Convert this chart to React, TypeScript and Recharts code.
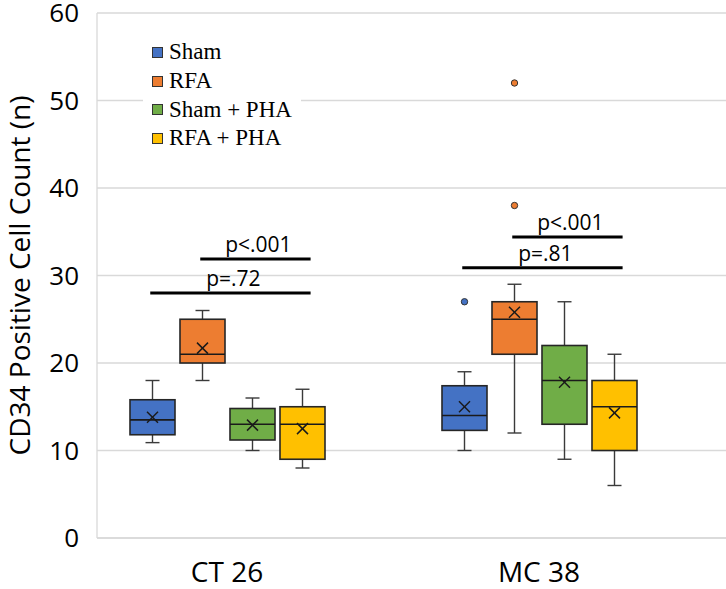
import { ComposedChart, Bar, XAxis, YAxis, CartesianGrid, Legend } from "recharts";

const categories = ["CT 26", "MC 38"];
const seriesNames = ["Sham", "RFA", "Sham + PHA", "RFA + PHA"];
const seriesColors = ["#4472C4", "#ED7D31", "#70AD47", "#FFC000"];

// box statistics per category (CT 26, MC 38)
const shamMin = [10.9, 10];
const shamQ1 = [11.8, 12.3];
const shamMedian = [13.5, 14];
const shamQ3 = [15.8, 17.4];
const shamMax = [18, 19];
const shamMean = [13.8, 15];
const shamOutliers = [[], [27]];

const rfaMin = [18, 12];
const rfaQ1 = [20, 21];
const rfaMedian = [21, 25];
const rfaQ3 = [25, 27];
const rfaMax = [26, 29];
const rfaMean = [21.7, 25.8];
const rfaOutliers = [[], [38, 52]];

const shamPhaMin = [10, 9];
const shamPhaQ1 = [11.2, 13];
const shamPhaMedian = [13, 18];
const shamPhaQ3 = [14.8, 22];
const shamPhaMax = [16, 27];
const shamPhaMean = [12.9, 17.8];
const shamPhaOutliers = [[], []];

const rfaPhaMin = [8, 6];
const rfaPhaQ1 = [9, 10];
const rfaPhaMedian = [13, 15];
const rfaPhaQ3 = [15, 18];
const rfaPhaMax = [17, 21];
const rfaPhaMean = [12.5, 14.3];
const rfaPhaOutliers = [[], []];

const yTicks = [0, 10, 20, 30, 40, 50, 60];

// significance brackets
const bracketCategory = ["CT 26", "CT 26", "MC 38", "MC 38"];
const bracketFrom = [1, 0, 1, 0];
const bracketTo = [3, 3, 3, 3];
const bracketLevel = [31.9, 28.0, 34.4, 30.9];
const bracketLabel = ["p<.001", "p=.72", "p<.001", "p=.81"];

const mins = [shamMin, rfaMin, shamPhaMin, rfaPhaMin];
const q1s = [shamQ1, rfaQ1, shamPhaQ1, rfaPhaQ1];
const medians = [shamMedian, rfaMedian, shamPhaMedian, rfaPhaMedian];
const q3s = [shamQ3, rfaQ3, shamPhaQ3, rfaPhaQ3];
const maxs = [shamMax, rfaMax, shamPhaMax, rfaPhaMax];
const means = [shamMean, rfaMean, shamPhaMean, rfaPhaMean];
const outliers = [shamOutliers, rfaOutliers, shamPhaOutliers, rfaPhaOutliers];

const data = categories.map((category, ci) => {
  const row: any = { category, ci };
  seriesNames.forEach((_, si) => {
    row[`s${si}`] = [mins[si][ci], maxs[si][ci]];
  });
  return row;
});

const SANS = '"Open Sans", "Noto Sans", sans-serif';
const BAR_SIZE = 45;
const BAR_GAP = 5;

const makeBoxShape = (si: number) => (props: any) => {
  const { x, y, width, height, payload } = props;
  const ci = payload.ci;
  const lo = mins[si][ci];
  const hi = maxs[si][ci];
  const toPx = (v: number) => y + (height * (hi - v)) / (hi - lo);
  const cx = x + width / 2;
  const cap = 7;
  const yQ1 = toPx(q1s[si][ci]);
  const yQ3 = toPx(q3s[si][ci]);
  const yMed = toPx(medians[si][ci]);
  const yMean = toPx(means[si][ci]);
  const m = 5.5;
  const step = width + BAR_GAP;

  return (
    <g>
      <g stroke="#3a3a3a" strokeWidth={1.4}>
        <line x1={cx} x2={cx} y1={y} y2={yQ3} />
        <line x1={cx} x2={cx} y1={yQ1} y2={y + height} />
        <line x1={cx - cap} x2={cx + cap} y1={y} y2={y} />
        <line x1={cx - cap} x2={cx + cap} y1={y + height} y2={y + height} />
      </g>
      <rect
        x={x}
        y={yQ3}
        width={width}
        height={yQ1 - yQ3}
        fill={seriesColors[si]}
        stroke="#262626"
        strokeWidth={1.6}
      />
      <line x1={x} x2={x + width} y1={yMed} y2={yMed} stroke="#1a1a1a" strokeWidth={1.6} />
      <g stroke="#1a1a1a" strokeWidth={1.5}>
        <line x1={cx - m} x2={cx + m} y1={yMean - m} y2={yMean + m} />
        <line x1={cx - m} x2={cx + m} y1={yMean + m} y2={yMean - m} />
      </g>
      {outliers[si][ci].map((v: number, k: number) => (
        <circle
          key={k}
          cx={cx}
          cy={toPx(v)}
          r={3.2}
          fill={seriesColors[si]}
          stroke="#333"
          strokeWidth={1}
        />
      ))}
      {si === 0 &&
        bracketLabel.map((label, bi) => {
          if (bracketCategory[bi] !== payload.category) return null;
          const x1 = cx + bracketFrom[bi] * step - 0.05 * width;
          const x2 = cx + bracketTo[bi] * step + 0.18 * width;
          const ly = toPx(bracketLevel[bi]);
          return (
            <g key={`b${bi}`}>
              <line x1={x1} x2={x2} y1={ly} y2={ly} stroke="#000" strokeWidth={3} />
              <text
                x={(x1 + x2) / 2 + 3}
                y={ly - 7}
                textAnchor="middle"
                fontFamily={SANS}
                fontSize={21}
                fill="#000"
              >
                {label}
              </text>
            </g>
          );
        })}
    </g>
  );
};

const renderLegend = (props: any) => {
  const items = [...(props.payload || [])].sort(
    (a: any, b: any) => seriesNames.indexOf(a.value) - seriesNames.indexOf(b.value)
  );
  return (
    <div
      style={{
        background: "#fff",
        padding: "1px 6px 2px 9px",
        fontFamily: '"Liberation Serif", "Times New Roman", serif',
        fontSize: 23,
        color: "#000",
      }}
    >
      {items.map((entry: any) => (
        <div key={entry.value} style={{ display: "flex", alignItems: "center", height: 28.7 }}>
          <span
            style={{
              display: "inline-block",
              width: 11,
              height: 11,
              boxSizing: "border-box",
              background: entry.color,
              border: "1px solid #333",
              marginRight: 6,
            }}
          />
          <span>{entry.value}</span>
        </div>
      ))}
    </div>
  );
};

export default function App() {
  return (
    <div>
      <style>{"body{margin:0}"}</style>
      <ComposedChart
        width={726}
        height={589}
        data={data}
        margin={{ top: 13, right: 0, bottom: 0, left: 0 }}
        barGap={BAR_GAP}
      >
        <CartesianGrid vertical={false} stroke="#d9d9d9" strokeWidth={1.3} />
        <XAxis
          dataKey="category"
          height={51}
          padding={{ left: -26, right: 31 }}
          tickLine={false}
          axisLine={{ stroke: "#d9d9d9", strokeWidth: 1.3 }}
          tickMargin={18}
          tick={{ fill: "#000", fontSize: 28, fontFamily: SANS }}
        />
        <YAxis
          width={97}
          domain={[0, 60]}
          ticks={yTicks}
          interval={0}
          tickLine={false}
          axisLine={{ stroke: "#d9d9d9", strokeWidth: 1.3 }}
          tickMargin={12}
          tick={{ fill: "#000", fontSize: 26, fontFamily: SANS }}
          label={{
            value: "CD34 Positive Cell Count (n)",
            angle: -90,
            position: "insideLeft",
            offset: 20,
            style: { textAnchor: "middle", fontSize: 28, fontFamily: SANS, fill: "#000" },
          }}
        />
        <Legend
          content={renderLegend}
          layout="vertical"
          align="center"
          verticalAlign="middle"
          wrapperStyle={{ left: 143, top: 37, width: 158 }}
        />
        {seriesNames.map((name, si) => (
          <Bar
            key={name}
            name={name}
            dataKey={`s${si}`}
            fill={seriesColors[si]}
            barSize={BAR_SIZE}
            shape={makeBoxShape(si)}
            isAnimationActive={false}
          />
        ))}
      </ComposedChart>
    </div>
  );
}
